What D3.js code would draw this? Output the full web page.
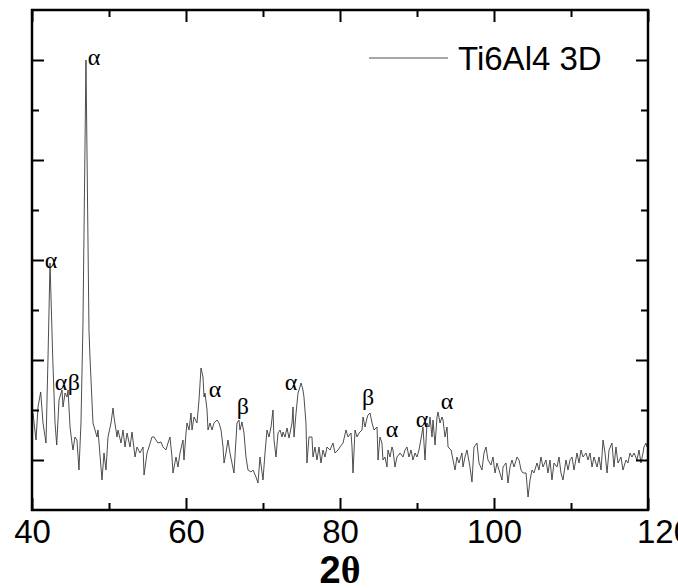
<!DOCTYPE html>
<html>
<head>
<meta charset="utf-8">
<script src="https://cdn.jsdelivr.net/npm/d3@7"></script>
<style>
  body { margin: 0; background: #fff; }
  svg { display: block; }
</style>
</head>
<body>
<svg id="chart" width="678" height="588"></svg>
<script>
// 2-theta positions (degrees)
var twoTheta = [
  40.0, 40.13, 40.52, 40.78, 41.13, 41.43, 41.82, 42.08, 42.34, 42.69, 42.99, 43.21, 43.51, 43.9, 44.03,
  44.29, 44.55, 44.68, 44.94, 45.19, 45.32, 45.58, 45.84, 46.1, 46.36, 46.62, 47.01, 47.21, 47.4, 47.53,
  47.92, 48.44, 48.57, 49.09, 49.35, 49.61, 49.87, 50.26, 50.52, 50.65, 51.04, 51.17, 51.56, 51.82, 52.08,
  52.34, 52.73, 52.99, 53.38, 53.64, 54.03, 54.42, 54.55, 54.94, 55.19, 55.58, 55.84, 56.1, 56.36, 56.75,
  57.01, 57.4, 57.66, 57.92, 58.18, 58.31, 58.7, 58.96, 59.22, 59.61, 59.74, 60.0, 60.13, 60.39, 60.65,
  60.78, 61.04, 61.43, 61.69, 61.95, 62.21, 62.34, 62.47, 62.73, 62.86, 63.12, 63.38, 63.64, 64.03, 64.29,
  64.55, 64.81, 64.94, 65.19, 65.45, 65.71, 65.97, 66.23, 66.49, 66.62, 66.88, 67.01, 67.27, 67.53, 67.79,
  68.05, 68.44, 68.7, 69.09, 69.35, 69.61, 69.87, 70.0, 70.26, 70.52, 70.78, 71.04, 71.3, 71.43, 71.69,
  71.95, 72.21, 72.47, 72.6, 72.86, 73.12, 73.38, 73.77, 73.9, 74.03, 74.29, 74.55, 74.68, 74.94, 75.19,
  75.32, 75.58, 75.71, 75.97, 76.36, 76.49, 76.75, 77.01, 77.27, 77.53, 77.79, 78.05, 78.31, 78.7, 79.09,
  79.35, 79.74, 80.0, 80.39, 80.78, 81.04, 81.43, 81.56, 81.69, 81.95, 82.21, 82.47, 82.86, 82.99, 83.25,
  83.51, 83.64, 83.9, 84.16, 84.42, 84.81, 84.94, 85.19, 85.45, 85.58, 85.84, 86.1, 86.23, 86.49, 86.75,
  86.88, 87.14, 87.4, 87.79, 88.18, 88.44, 88.7, 88.96, 89.22, 89.48, 89.74, 90.0, 90.26, 90.65, 90.78,
  91.04, 91.3, 91.56, 91.69, 91.95, 92.08, 92.34, 92.6, 92.73, 92.99, 93.25, 93.38, 93.64, 93.9, 94.03,
  94.42, 94.68, 94.94, 95.19, 95.45, 95.84, 95.97, 96.23, 96.49, 96.88, 97.14, 97.4, 97.79, 98.05, 98.44,
  98.7, 98.96, 99.22, 99.61, 99.87, 100.13, 100.39, 100.65, 101.04, 101.17, 101.56, 101.82, 102.08, 102.34, 102.6,
  102.99, 103.25, 103.51, 103.77, 104.16, 104.42, 104.68, 104.94, 105.19, 105.58, 105.84, 106.1, 106.36, 106.75, 107.01,
  107.27, 107.53, 107.79, 108.18, 108.44, 108.7, 108.96, 109.35, 109.61, 109.87, 110.13, 110.39, 110.78, 111.04, 111.3,
  111.56, 111.95, 112.21, 112.47, 112.73, 112.99, 113.38, 113.64, 113.9, 114.16, 114.42, 114.68, 114.94, 115.32, 115.58,
  115.84, 116.1, 116.49, 116.75, 117.14, 117.4, 117.66, 117.92, 118.18, 118.57, 118.83, 119.09, 119.35, 119.48, 119.74,
  119.87, 120.0
];

// intensity (arbitrary units, baseline tick = 0)
var intensity = [
  47, 47, 20, 53, 68, 37, 17, 103, 197, 103, 37, 15, 60, 70, 53,
  67, 63, 70, 33, 17, 10, 23, 20, -10, 37, 137, 400, 260, 130, 103,
  37, 23, 30, -20, 7, -10, 23, 37, 52, 43, 23, 30, 17, 30, 13,
  27, 13, 28, 3, 13, 7, 13, -15, 7, 13, 23, 23, 20, 17, 18,
  13, 10, 17, 23, 3, -13, 3, -7, 7, 20, 0, 27, 37, 30, 47,
  30, 43, 37, 60, 92, 83, 63, 67, 50, 30, 37, 30, 37, 40, 37,
  30, 13, -3, 7, 20, 7, -3, -13, 20, 37, 40, 30, 38, 27, 3,
  -10, -12, -10, -17, -23, 3, -12, -20, 7, 30, 23, 33, 50, 20, 3,
  27, 30, 23, 28, 23, 32, 22, 37, 53, 23, 47, 67, 70, 77, 70,
  63, 37, -3, 23, 23, 3, 13, 0, 13, -3, 10, 3, 13, 10, 17,
  7, 10, 13, 17, 30, 23, 27, 13, -13, 30, 23, 27, 30, 43, 33,
  42, 45, 47, 37, 30, 33, 0, 23, 17, 0, 3, -7, 10, 3, 13,
  10, -7, 3, 7, 3, 10, 13, 3, 10, 0, 7, 3, 10, 27, 33,
  0, 37, 33, 43, 23, 40, 15, 43, 48, 37, 43, 40, 23, 33, 13,
  10, 0, -10, 3, -3, 7, -7, 3, 10, -7, -22, 13, 17, -3, -10,
  7, 13, 0, -5, 3, -13, -3, -10, -20, -7, -3, -23, -7, 0, -7,
  3, 0, -10, -13, -13, -37, -20, -10, -13, -3, -10, 3, -7, 0, -13,
  0, -20, -3, -7, 3, -13, -20, 0, -10, 0, 3, -10, 7, -3, 10,
  3, 7, 0, 7, -7, 3, -7, 3, -10, 20, 7, -13, 10, 17, -7,
  13, -3, 3, -10, 0, -3, 7, 3, 7, 0, 10, -3, 7, 13, 17,
  13, 18
];

var xMajorTicks = [40, 60, 80, 100, 120];
var xMinorTicks = [50, 70, 90, 110];
var yMajorTicks = [0, 100, 200, 300, 400];
var yMinorTicks = [50, 150, 250, 350];

var seriesName = "Ti6Al4 3D";

// phase markers: symbol, 2-theta, intensity of label baseline
var peakSymbols = ["α", "α", "α", "β", "α", "β", "α", "β", "α", "α", "α"];
var peakX = [48.05, 42.47, 43.77, 45.45, 63.77, 67.4, 73.64, 83.64, 86.75, 90.65, 93.9];
var peakY = [395, 192, 70, 70, 63, 46, 70, 55, 23, 33, 51];

var margin = { left: 32, right: 30, top: 10, bottom: 78 };
var width = 678, height = 588;

var svg = d3.select("#chart");

var x = d3.scaleLinear()
    .domain([40, 120])
    .range([margin.left, width - margin.right]);

var y = d3.scaleLinear()
    .domain([-50, 450])
    .range([height - margin.bottom, margin.top]);

var points = twoTheta.map(function(t, i) { return [t, intensity[i]]; });

var line = d3.line()
    .x(function(d) { return x(d[0]); })
    .y(function(d) { return y(d[1]); });

svg.append("path")
    .datum(points)
    .attr("fill", "none")
    .attr("stroke", "#3a3a3a")
    .attr("stroke-width", 0.9)
    .attr("stroke-linejoin", "round")
    .attr("d", line);

// ticks, all pointing inward
var plotBottom = y.range()[0], plotTop = y.range()[1];
var plotLeft = x.range()[0], plotRight = x.range()[1];

function drawAxis(axis, tx, ty, labels) {
    var g = svg.append("g")
        .attr("transform", "translate(" + tx + "," + ty + ")")
        .call(axis);
    g.select(".domain").remove();
    g.selectAll(".tick line").attr("stroke", "#000").attr("stroke-width", 2);
    if (!labels) g.selectAll(".tick text").remove();
    return g;
}

var bottomAxis = drawAxis(d3.axisBottom(x).tickValues(xMajorTicks).tickSize(-12).tickPadding(10), 0, plotBottom, true);
bottomAxis.selectAll(".tick text")
    .attr("font-family", "Liberation Sans, Arial, sans-serif")
    .attr("font-size", 33)
    .attr("fill", "#000");
// the last label sits shifted right and runs off the edge in the original
bottomAxis.selectAll(".tick text").filter(function(d) { return d === 120; }).attr("dx", 16);

drawAxis(d3.axisBottom(x).tickValues(xMinorTicks).tickSize(-7), 0, plotBottom, false);
drawAxis(d3.axisTop(x).tickValues(xMajorTicks).tickSize(-12), 0, plotTop, false);
drawAxis(d3.axisTop(x).tickValues(xMinorTicks).tickSize(-7), 0, plotTop, false);
drawAxis(d3.axisLeft(y).tickValues(yMajorTicks).tickSize(-12), plotLeft, 0, false);
drawAxis(d3.axisLeft(y).tickValues(yMinorTicks).tickSize(-7), plotLeft, 0, false);
drawAxis(d3.axisRight(y).tickValues(yMajorTicks).tickSize(-12), plotRight, 0, false);
drawAxis(d3.axisRight(y).tickValues(yMinorTicks).tickSize(-7), plotRight, 0, false);

// frame
svg.append("rect")
    .attr("x", plotLeft)
    .attr("y", plotTop)
    .attr("width", plotRight - plotLeft)
    .attr("height", plotBottom - plotTop)
    .attr("fill", "none")
    .attr("stroke", "#000")
    .attr("stroke-width", 2.5);

// phase labels
svg.append("g").selectAll("text")
    .data(peakSymbols)
    .enter()
    .append("text")
    .attr("x", function(d, i) { return x(peakX[i]); })
    .attr("y", function(d, i) { return y(peakY[i]); })
    .attr("text-anchor", "middle")
    .attr("font-family", "Liberation Serif, Times New Roman, serif")
    .attr("font-size", 24)
    .attr("fill", "#000")
    .text(function(d) { return d; });

// legend
var legend = svg.append("g").attr("transform", "translate(369,58)");
legend.append("line")
    .attr("x1", 0).attr("x2", 79)
    .attr("stroke", "#3a3a3a")
    .attr("stroke-width", 0.9);
legend.append("text")
    .attr("x", 89)
    .attr("y", 12)
    .attr("font-family", "Liberation Sans, Arial, sans-serif")
    .attr("font-size", 33)
    .attr("fill", "#000")
    .text(seriesName);

// axis title
var title = svg.append("text")
    .attr("x", (plotLeft + plotRight) / 2)
    .attr("y", 583)
    .attr("text-anchor", "middle")
    .attr("fill", "#000");
title.append("tspan")
    .attr("font-family", "Liberation Sans, Arial, sans-serif")
    .attr("font-weight", "bold")
    .attr("font-size", 38)
    .text("2");
title.append("tspan")
    .attr("font-family", "Liberation Serif, Times New Roman, serif")
    .attr("font-weight", "bold")
    .attr("font-size", 38)
    .text("θ");
</script>
</body>
</html>
